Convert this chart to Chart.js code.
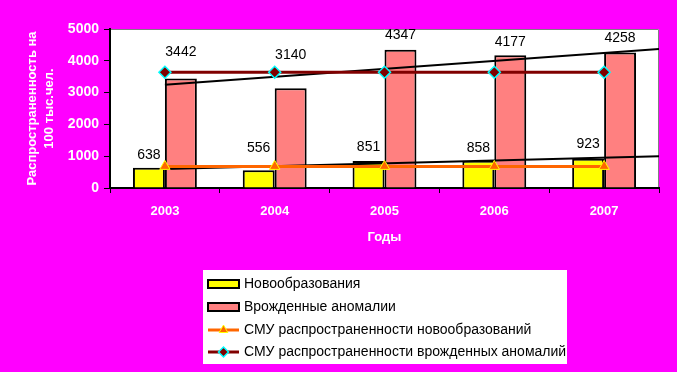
<!DOCTYPE html>
<html><head><meta charset="utf-8">
<script src="https://cdn.jsdelivr.net/npm/chart.js@4/dist/chart.umd.min.js"></script>
<style>html,body{margin:0;padding:0;background:#FF00FF;overflow:hidden}</style>
</head><body>
<canvas id="c" width="677" height="372"></canvas>
<script>
const years = ['2003','2004','2005','2006','2007'];
const neoplasms = [638, 556, 851, 858, 923];
const anomalies = [3442, 3140, 4347, 4177, 4258];
const smuNeoplasms = [680, 680, 680, 680, 680];
const smuAnomalies = [3640, 3640, 3640, 3640, 3640];
const trendNeoplasms = [{x: 1, y: 600}, {x: 5.5, y: 1000}];
const trendAnomalies = [{x: 1, y: 3250}, {x: 5.5, y: 4370}];
const yTickValues = [0, 1000, 2000, 3000, 4000, 5000];
const seriesNames = ['Новообразования', 'Врожденные аномалии',
  'СМУ распространенности новообразований', 'СМУ распространенности врожденных аномалий'];
const yTitle = ['Распространенность на', '100 тыс.чел.'];
const xTitle = 'Годы';

// label lift above the bar top (style)
const labelLift = [[13, 22, 14, 13, 15], [26, 33, 15, 13, 14]];
const labelValues = [neoplasms, anomalies];

const FONT = '"Liberation Sans", Arial, sans-serif';
const toPoints = arr => arr.map((v, i) => ({x: i + 1, y: v}));

const bgPlugin = {
  id: 'bg',
  beforeDraw(chart) {
    const {ctx, chartArea: a} = chart;
    ctx.save();
    ctx.fillStyle = '#FF00FF';
    ctx.fillRect(0, 0, chart.width, chart.height);
    ctx.fillStyle = '#FFFFFF';
    ctx.fillRect(a.left, a.top, a.right - a.left, a.bottom - a.top);
    ctx.strokeStyle = '#808080';
    ctx.lineWidth = 1;
    ctx.beginPath();
    ctx.moveTo(a.left, a.top + 0.5);
    ctx.lineTo(a.right - 0.5, a.top + 0.5);
    ctx.lineTo(a.right - 0.5, a.bottom);
    ctx.stroke();
    ctx.restore();
  }
};

const labelPlugin = {
  id: 'barLabels',
  afterDatasetsDraw(chart) {
    const {ctx} = chart;
    ctx.save();
    ctx.font = '14px ' + FONT;
    ctx.fillStyle = '#000';
    ctx.textAlign = 'center';
    ctx.textBaseline = 'middle';
    [0, 1].forEach(di => {
      const meta = chart.getDatasetMeta(di);
      meta.data.forEach((bar, i) => {
        ctx.fillText(String(labelValues[di][i]), bar.x, bar.y - labelLift[di][i]);
      });
    });
    ctx.restore();
  }
};

const legendPlugin = {
  id: 'customLegend',
  afterDraw(chart) {
    const {ctx} = chart;
    const ds = chart.data.datasets;
    ctx.save();
    const bx = 203, by = 270, bw = 364, bh = 94;
    ctx.fillStyle = '#FFFFFF';
    ctx.fillRect(bx, by, bw, bh);
    ctx.font = '14px ' + FONT;
    ctx.textBaseline = 'middle';
    ctx.textAlign = 'left';
    const rowY = [284, 307, 330, 352];
    const sx0 = 208, sx1 = 239, tx = 244;
    [0, 1].forEach((di, r) => {
      const y = rowY[r];
      ctx.fillStyle = ds[di].backgroundColor;
      ctx.fillRect(sx0, y - 4, sx1 - sx0, 8);
      ctx.strokeStyle = '#000';
      ctx.lineWidth = 2;
      ctx.strokeRect(sx0, y - 4, sx1 - sx0, 8);
      ctx.fillStyle = '#000';
      ctx.fillText(ds[di].label, tx, y);
    });
    [2, 3].forEach((di, k) => {
      const y = rowY[2 + k];
      const d = ds[di];
      ctx.strokeStyle = d.borderColor;
      ctx.lineWidth = 3;
      ctx.beginPath();
      ctx.moveTo(sx0, y);
      ctx.lineTo(sx1, y);
      ctx.stroke();
      ctx.fillStyle = d.pointBackgroundColor;
      ctx.strokeStyle = d.pointBorderColor;
      ctx.lineWidth = d.pointBorderWidth;
      Chart.helpers.drawPoint(ctx, {
        pointStyle: d.pointStyle, radius: d.pointRadius - 1, borderWidth: d.pointBorderWidth, rotation: 0
      }, (sx0 + sx1) / 2, y);
      ctx.fillStyle = '#000';
      ctx.fillText(d.label, tx, y);
    });
    ctx.restore();
  }
};

new Chart(document.getElementById('c'), {
  type: 'bar',
  data: {
    datasets: [
      {type: 'bar', label: seriesNames[0], data: toPoints(neoplasms), backgroundColor: '#FFFF00',
        borderColor: '#000', borderWidth: 2, categoryPercentage: 0.582, barPercentage: 1,
        order: 10, xAxisID: 'x', yAxisID: 'y'},
      {type: 'bar', label: seriesNames[1], data: toPoints(anomalies), backgroundColor: '#FF8080',
        borderColor: '#000', borderWidth: 2, categoryPercentage: 0.582, barPercentage: 1,
        order: 11, xAxisID: 'x', yAxisID: 'y'},
      {type: 'line', label: seriesNames[2], data: toPoints(smuNeoplasms), borderColor: '#FF6600', borderWidth: 3,
        pointStyle: 'triangle', pointRadius: 6, pointBackgroundColor: '#FF6600', pointBorderColor: '#FFFF00',
        pointBorderWidth: 1, order: 2, xAxisID: 'x', yAxisID: 'y', fill: false},
      {type: 'line', label: seriesNames[3], data: toPoints(smuAnomalies), borderColor: '#800000', borderWidth: 3,
        pointStyle: 'rectRot', pointRadius: 6, pointBackgroundColor: '#800000', pointBorderColor: '#00FFFF',
        pointBorderWidth: 1.5, order: 3, xAxisID: 'x', yAxisID: 'y', fill: false},
      {type: 'line', label: 'trend1', data: trendNeoplasms, borderColor: '#000', borderWidth: 2,
        pointRadius: 0, order: 5, xAxisID: 'x', yAxisID: 'y', fill: false},
      {type: 'line', label: 'trend2', data: trendAnomalies, borderColor: '#000', borderWidth: 2,
        pointRadius: 0, order: 5, xAxisID: 'x', yAxisID: 'y', fill: false}
    ]
  },
  options: {
    responsive: false,
    animation: false,
    devicePixelRatio: 1,
    layout: {padding: {left: 0, top: 29, right: 18, bottom: 127}},
    plugins: {legend: {display: false}, tooltip: {enabled: false}},
    scales: {
      x: {
        type: 'linear', min: 0.5, max: 5.5, offset: false,
        afterBuildTicks(s) { s.ticks = years.map((y, i) => ({value: i + 1})); },
        grid: {offset: true, drawOnChartArea: false, tickLength: 5, color: '#000', tickWidth: 1},
        border: {color: '#000', width: 2},
        ticks: {color: '#FFFFFF', font: {family: FONT, size: 13, weight: 'bold'}, padding: 11, maxRotation: 0,
          autoSkip: false, callback: (v, i) => years[i]},
        title: {display: true, text: xTitle, color: '#FFFFFF', font: {family: FONT, size: 13, weight: 'bold'},
          padding: {top: 0, bottom: 0}},
        afterFit(s) { s.height = 57; }
      },
      y: {
        type: 'linear', min: 0, max: 5000,
        afterBuildTicks(s) { s.ticks = yTickValues.map(v => ({value: v})); },
        grid: {drawOnChartArea: false, tickLength: 6, color: '#000'},
        border: {color: '#000', width: 2},
        ticks: {color: '#FFFFFF', font: {family: FONT, size: 14, weight: 'bold'}, padding: 5,
          callback: v => String(v)},
        title: {display: true, text: yTitle, color: '#FFFFFF',
          font: {family: FONT, size: 13, weight: 'bold', lineHeight: 1.38}, padding: {top: 23, bottom: 0}},
        afterFit(s) { s.width = 110; }
      }
    }
  },
  plugins: [bgPlugin, labelPlugin, legendPlugin]
});
</script>
</body></html>
